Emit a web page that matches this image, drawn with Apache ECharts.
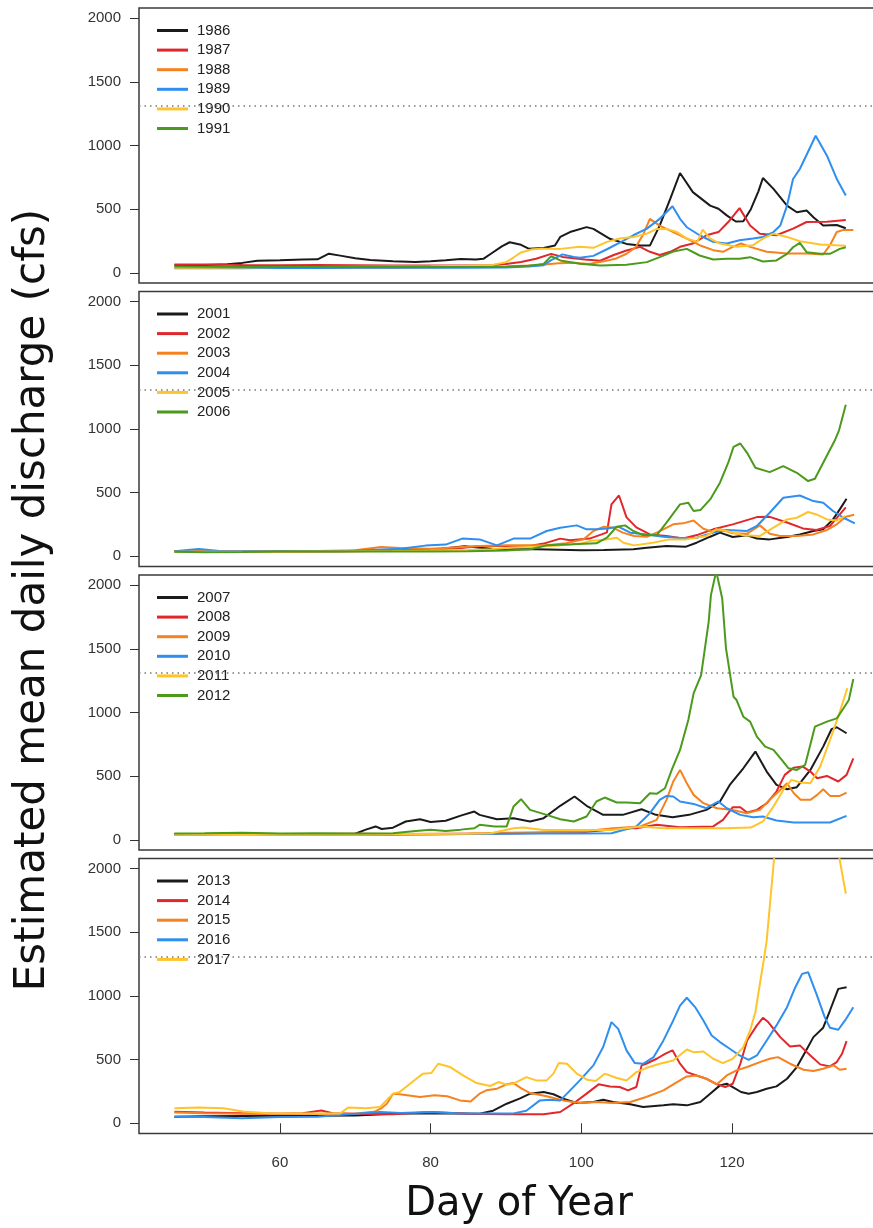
<!DOCTYPE html>
<html>
<head>
<meta charset="utf-8">
<title>Estimated mean daily discharge</title>
<script src="https://cdn.jsdelivr.net/npm/echarts@6/dist/echarts.min.js"></script>
<style>
  html, body { margin: 0; padding: 0; background: #fff; }
  #chart { width: 873px; height: 1228px; }
</style>
</head>
<body>
<div id="chart"></div>
<script>
// ===== Data: [day of year, discharge cfs] =====
var y1986 = [[46,60],[50,62],[53,68],[55,78],[57,95],[60,98],[63,104],[65,106],[66.5,150],[68,135],[70,115],[72,100],[75,90],[78,84],[80,90],[82,98],[84,108],[86,104],[87,110],[88,150],[89.5,210],[90.5,240],[92,220],[93,190],[95,195],[96.5,215],[97.2,282],[98.5,320],[100.7,359],[101.6,345],[103.8,267],[106,227],[107.8,214],[109.1,214],[110.4,371],[111.8,580],[113.1,784],[114.8,634],[117.1,528],[118.2,503],[119.3,451],[120.5,403],[121.5,405],[122.5,500],[123.5,640],[124.1,745],[125.5,659],[127.3,528],[128.6,476],[129.9,489],[130.8,437],[132.1,371],[133.9,376],[135.1,350]];
var y1987 = [[46,65],[50,65],[55,62],[60,60],[65,62],[70,60],[75,58],[80,58],[85,58],[88,60],[90,70],[92,85],[94,110],[96,149],[97.5,125],[99,115],[100.5,105],[102.5,95],[104.3,140],[106,175],[107.8,204],[109.1,165],[110.4,140],[111.8,165],[113.1,204],[114.8,230],[116.6,295],[118.2,320],[119.5,399],[121,508],[122.4,371],[123.7,306],[125.9,295],[128.1,347],[129.9,399],[132.6,402],[135.1,415]];
var y1988 = [[46,40],[50,38],[55,38],[60,40],[65,38],[70,40],[75,40],[80,42],[85,45],[90,50],[94,60],[97,75],[99,80],[101,70],[103,90],[104.5,110],[106,150],[107.2,200],[108.2,300],[109.1,424],[110.4,371],[112.2,320],[114,269],[115.7,217],[117.5,178],[118.8,165],[120.1,204],[121.2,230],[122.4,204],[124.6,165],[127.3,152],[129.9,152],[132.1,144],[133,217],[133.9,320],[134.8,337],[136.1,337]];
var y1989 = [[46,35],[50,38],[55,35],[60,40],[65,38],[70,40],[75,42],[80,40],[85,40],[90,42],[93,50],[95,60],[96,100],[97.5,145],[99,125],[99.8,118],[101.6,133],[103.4,185],[105.1,237],[106.9,295],[108.7,347],[110.4,424],[112.1,523],[113.1,424],[114,358],[115.7,295],[117.5,243],[119.3,230],[121,256],[122.8,269],[124.1,282],[125.5,320],[126.4,371],[127.3,528],[128.1,737],[129,815],[131.1,1077],[132.6,920],[133.9,737],[135.1,607]];
var y1990 = [[46,40],[50,40],[55,42],[60,45],[65,45],[70,48],[75,50],[80,52],[85,55],[88,60],[90,84],[91,120],[92,160],[93.5,185],[95,190],[97.2,188],[99.8,204],[101.6,196],[103.4,243],[105.1,269],[106.9,282],[108.7,308],[110,345],[111.3,345],[112.7,320],[114,269],[115.4,243],[116.1,340],[117.1,269],[118.4,230],[120.6,204],[122.8,217],[124.1,269],[125.5,308],[127.3,282],[129,248],[131.7,222],[135.1,212]];
var y1991 = [[46,50],[50,48],[55,45],[60,45],[65,45],[70,45],[75,45],[80,45],[85,45],[90,48],[93,55],[95,70],[96,131],[97.2,97],[99.8,71],[102.5,57],[106,63],[108.7,84],[110.4,123],[112.2,167],[114,188],[115.7,136],[117.5,105],[119.3,110],[121,110],[122.4,123],[124.1,89],[125.9,97],[127.3,149],[128.1,201],[129,235],[129.9,162],[131.7,149],[133,149],[134.3,188],[135.1,201]];

var y2001 = [[46,40],[50,38],[55,38],[60,38],[65,40],[70,42],[75,45],[80,50],[83,70],[84.5,80],[86.5,68],[88.8,55],[91,55],[94,55],[97,52],[100,48],[103,50],[106.9,55],[108.7,68],[111.3,81],[113.9,76],[115.3,107],[117.1,154],[118.4,186],[120.1,152],[122,165],[123.3,139],[125,133],[127.3,152],[129,172],[130.8,199],[132.1,212],[133.4,290],[134.3,369],[135.2,452]];
var y2002 = [[46,38],[50,38],[55,36],[60,38],[65,38],[70,40],[75,45],[80,50],[84,65],[86.5,81],[90,81],[93.2,81],[95,100],[97.2,139],[98.5,126],[101.1,139],[102.7,172],[103.4,188],[104,408],[105,478],[106,306],[107.3,227],[109.1,172],[111.3,160],[113.5,140],[115.5,170],[117.5,212],[120.1,251],[123.3,308],[125,310],[127.3,266],[129.4,219],[131.2,207],[133,238],[134.3,329],[135.1,384]];
var y2003 = [[46,40],[50,40],[55,38],[60,40],[65,42],[70,48],[73.4,73],[76,65],[80,60],[83,70],[86.5,81],[90,86],[95.4,86],[98,102],[100.3,133],[101.6,199],[103,233],[104.2,225],[105.5,186],[107,160],[108.7,154],[110,186],[112.2,251],[113.5,259],[114.9,282],[116.2,217],[117.5,191],[118.4,212],[120.1,181],[122,178],[123.7,243],[125,178],[126.4,160],[128.6,160],[130.8,172],[132.6,207],[133.9,251],[135.1,311],[136.2,327]];
var y2004 = [[46,40],[49.2,57],[52,42],[56,40],[60,40],[64,40],[68,40],[72,50],[76,60],[79.3,84],[82,92],[84.2,139],[86.5,133],[88.8,86],[91,139],[93.2,139],[95.4,199],[97.2,225],[99.4,243],[100.7,212],[102,212],[103.4,219],[104.9,233],[106.5,186],[108.7,172],[110.9,154],[113.1,144],[115.3,146],[117.5,186],[119.3,207],[122,199],[123.3,238],[125,342],[126.8,460],[129,478],[130.8,434],[132.1,421],[133.4,356],[134.8,303],[136.3,259]];
var y2005 = [[46,35],[50,35],[55,35],[60,35],[65,38],[70,40],[75,42],[80,45],[85,50],[88,55],[91,70],[94,75],[97,85],[100,100],[101.1,120],[103.4,133],[104.7,146],[105.6,107],[107,86],[109.5,107],[111.7,133],[113.9,133],[116.6,160],[117.9,212],[119.3,199],[121.5,165],[123.7,160],[125.5,225],[127.3,290],[128.6,303],[130.1,348],[131.2,329],[132.6,290],[133.9,282],[135,316]];
var y2006 = [[46,35],[50,32],[55,33],[60,38],[65,38],[70,38],[75,38],[80,38],[85,40],[90,45],[93.2,55],[95.4,86],[98.8,94],[102,102],[103.4,146],[104.7,233],[105.8,243],[106.9,199],[108.2,167],[110,165],[111.3,264],[113.1,408],[114.2,421],[114.9,356],[115.8,363],[117.1,447],[118.4,578],[119.5,735],[120.2,860],[121.1,886],[122,813],[123.1,695],[125,661],[126.8,708],[128.6,656],[130.1,591],[131,609],[132.1,735],[133.7,918],[134.2,990],[135.1,1190]];

var y2007 = [[46,45],[50,45],[55,48],[60,45],[65,45],[70,48],[71.4,80],[72.7,105],[73.5,85],[75,95],[76.7,144],[78.6,162],[80,140],[82,150],[84,190],[85.8,222],[86.5,196],[88.8,162],[91,170],[93.2,144],[95,170],[97.2,267],[99.1,340],[100.7,267],[102.9,196],[105.5,196],[108,240],[109.9,196],[112.1,178],[114.3,196],[116.6,235],[118.4,301],[119.7,431],[121.5,562],[123.1,693],[124.6,536],[125.9,431],[127.3,397],[128.6,413],[130.4,549],[132.1,732],[133.2,868],[133.9,884],[135.2,837]];
var y2008 = [[46,45],[50,42],[55,45],[60,45],[65,45],[70,48],[75,45],[80,45],[85,48],[90,50],[95,55],[100,60],[103,75],[105.1,91],[107.3,91],[110,118],[113.1,99],[117.5,105],[118.8,157],[120.1,256],[121.1,256],[122,214],[123.3,235],[124.6,287],[125.9,379],[127,510],[128.2,567],[129.4,575],[130.4,536],[131.3,484],[132.6,502],[134.1,458],[135.2,510],[136.1,640]];
var y2009 = [[46,40],[50,40],[55,42],[60,40],[65,42],[70,45],[75,45],[80,48],[85,50],[90,55],[95,60],[100,65],[104.2,91],[107.8,105],[110,157],[111.3,314],[112.2,458],[113.1,549],[114,444],[114.9,353],[116.2,288],[118,248],[120.1,235],[121.9,209],[123.7,235],[125,314],[126.4,392],[127.3,444],[128.2,366],[129.1,314],[130.4,314],[131.3,353],[132.1,397],[133,345],[134.3,345],[135.2,371]];
var y2010 = [[46,40],[50,38],[55,40],[60,40],[65,38],[70,40],[75,40],[80,42],[85,45],[90,48],[95,50],[100,50],[104,52],[107.3,105],[109.1,209],[110.4,314],[111.3,345],[112.2,340],[113.1,301],[114.9,282],[116.6,248],[118.2,301],[119.3,248],[121.1,196],[122.8,178],[124.1,183],[125.9,152],[128.2,136],[130.8,136],[133,136],[135.2,188]];
var y2011 = [[46,40],[50,40],[55,38],[60,40],[65,40],[70,42],[75,45],[80,45],[85,48],[88,52],[91,91],[92.3,96],[95,78],[100,78],[104,78],[107.8,105],[111,91],[115,91],[119,91],[122.5,96],[124.1,144],[125.5,261],[126.8,392],[127.9,471],[129.1,450],[130.4,444],[131.7,575],[133,784],[134.1,967],[134.8,1098],[135.3,1190]];
var y2012 = [[46,50],[50,52],[55,55],[60,50],[65,52],[70,50],[75,52],[78,70],[80,80],[82,70],[84,80],[85.8,91],[86.5,118],[88.5,105],[90.1,105],[91,261],[92,319],[93.2,235],[95.4,196],[97.2,162],[99,144],[100.7,183],[102,301],[103.1,332],[104.7,293],[106,293],[107.8,287],[109.1,366],[110,361],[111.1,405],[112,549],[113.1,706],[114.2,941],[114.9,1150],[115.9,1294],[116.9,1712],[117.2,1922],[117.9,2110],[118.7,1895],[119.2,1503],[120.2,1124],[120.6,1098],[121.5,967],[122.4,928],[123.3,810],[124.4,732],[125.5,706],[126.6,627],[127.5,562],[128.6,549],[129.7,588],[131,889],[132.6,928],[133.9,954],[134.8,1033],[135.5,1098],[136.1,1263]];

var y2013 = [[46,52],[50,55],[55,58],[60,60],[65,60],[70,62],[73,70],[76,78],[80,78],[84,78],[86.5,76],[88.3,99],[90.1,154],[91.8,194],[93.2,233],[95,246],[96.3,228],[97.6,194],[99.4,159],[101.6,167],[102.9,185],[104.2,167],[106.5,149],[108.2,128],[110.9,141],[112.2,149],[114,141],[115.8,167],[117.1,233],[118.4,298],[119.3,311],[120.1,285],[121.2,246],[122.2,233],[123.3,246],[124.6,272],[125.9,290],[127.3,350],[128.6,442],[129.7,559],[130.8,677],[132.1,751],[133,886],[134.1,1056],[135.2,1069]];
var y2014 = [[46,90],[50,85],[55,80],[60,75],[63,80],[65.5,100],[67,80],[70,75],[75,72],[80,88],[85,75],[90,72],[95,72],[97.2,89],[98.9,154],[100.7,233],[102.3,306],[103.8,290],[105.1,285],[106.2,259],[107.3,285],[108,455],[108.6,468],[110,507],[111.1,546],[112.1,573],[113.1,468],[114,402],[115.3,376],[116.6,350],[118,306],[119.1,285],[120.1,311],[121.1,468],[122,651],[123.3,769],[124.1,829],[124.8,795],[126.4,677],[127.7,604],[129,612],[130.4,533],[131.7,463],[133,447],[133.9,481],[134.6,546],[135.2,646]];
var y2015 = [[46,85],[50,80],[55,75],[60,75],[65,75],[70,78],[72.5,90],[73.5,120],[74.2,154],[75,233],[75.9,228],[78.6,207],[80.5,220],[82.2,212],[83.9,180],[85.3,172],[86.5,233],[87.4,259],[88.8,272],[90.1,306],[91,316],[92.1,272],[93.2,238],[95.4,212],[97.6,180],[99.8,159],[102,167],[104.2,159],[106.5,167],[108.6,207],[110.9,259],[112.7,324],[114,368],[115.3,376],[116.6,350],[118,306],[119.3,376],[120.6,416],[122,442],[123.7,481],[125,507],[126.1,520],[127.7,468],[129.5,421],[130.8,411],[132.1,429],[133.5,455],[134.3,421],[135.2,429]];
var y2016 = [[46,52],[50,50],[55,40],[60,50],[65,52],[70,75],[73.3,89],[76,82],[80,89],[84,78],[88,78],[91,78],[92.7,99],[94.5,180],[95.8,185],[97.2,180],[98.1,233],[99.8,337],[101.6,455],[102.9,599],[104,795],[104.9,742],[106,573],[107.1,473],[108.2,468],[109.6,520],[110.9,651],[112.2,808],[113.1,925],[114,986],[115.1,913],[116.2,808],[117.3,690],[118.4,638],[119.7,586],[121,533],[122.2,499],[123.3,533],[124.6,651],[125.9,769],[127.3,912],[128.4,1069],[129.3,1174],[130.1,1187],[131.2,1017],[132.3,834],[133,751],[134.1,735],[135,808],[136.1,912]];
var y2017 = [[46,118],[49.2,125],[52.5,118],[55.1,92],[59,78],[63.6,78],[68,78],[69.1,125],[71.4,118],[73.3,128],[75,233],[75.9,246],[78.1,350],[79,390],[80.1,395],[81,468],[82.6,442],[84.3,376],[86.1,316],[87.9,293],[89,324],[90.1,303],[91,311],[92.7,363],[94,337],[95.4,337],[96.3,390],[97,473],[98.1,468],[99.4,390],[100.8,342],[101.9,332],[103.1,390],[104.6,358],[106,337],[107.3,402],[108.6,434],[110.4,468],[112.2,494],[114,580],[114.9,559],[116.2,564],[117.5,507],[118.8,473],[120.1,507],[121.5,599],[122.4,729],[123.1,873],[123.7,1096],[124.2,1278],[124.6,1435],[125.6,2090],[126.5,2600],[128,3100],[130,3300],[132,3000],[134.2,2100],[135.1,1804]];

var panelYears = [
    ['1986', '1987', '1988', '1989', '1990', '1991'],
    ['2001', '2002', '2003', '2004', '2005', '2006'],
    ['2007', '2008', '2009', '2010', '2011', '2012'],
    ['2013', '2014', '2015', '2016', '2017']
];
var panelData = [
    [y1986, y1987, y1988, y1989, y1990, y1991],
    [y2001, y2002, y2003, y2004, y2005, y2006],
    [y2007, y2008, y2009, y2010, y2011, y2012],
    [y2013, y2014, y2015, y2016, y2017]
];
var yTicks = [0, 500, 1000, 1500, 2000];
var xTicks = [60, 80, 100, 120];
var threshold = 1310;

var lineColors = ['#1a1a1a', '#e0282c', '#f5821f', '#2e8ff0', '#fec42a', '#4b9a1c'];

// ===== Layout =====
var chart = echarts.init(document.getElementById('chart'));
var gridTops = [8, 291.5, 575, 858.5];
var gridHeight = 275;
var font = 'Liberation Sans, Arial, Helvetica, sans-serif';

var grids = [], xAxes = [], yAxes = [], legends = [], series = [];

panelYears.forEach(function(years, p) {
    var isBottom = p === panelYears.length - 1;

    grids.push({
        left: 139,
        top: gridTops[p],
        width: 749,
        height: gridHeight,
        show: true,
        borderColor: '#3a3a3a',
        borderWidth: 1.5,
        backgroundColor: 'transparent',
        outerBoundsMode: 'none'
    });

    xAxes.push({
        type: 'value',
        gridIndex: p,
        min: 41.3,
        max: 140.7,
        show: isBottom,
        axisLine: { show: false },
        splitLine: { show: false },
        axisTick: {
            show: isBottom,
            length: 10,
            customValues: xTicks,
            lineStyle: { color: '#333', width: 1 }
        },
        axisLabel: {
            show: isBottom,
            customValues: xTicks,
            margin: 22,
            color: '#333',
            fontSize: 15,
            fontFamily: font,
            formatter: function(v) { return String(v); }
        }
    });

    yAxes.push({
        type: 'value',
        gridIndex: p,
        min: -80,
        max: 2080,
        axisLine: { show: false },
        splitLine: { show: false },
        axisTick: {
            show: true,
            length: 9,
            customValues: yTicks,
            lineStyle: { color: '#333', width: 1 }
        },
        axisLabel: {
            customValues: yTicks,
            margin: 18,
            color: '#333',
            fontSize: 15,
            fontFamily: font,
            formatter: function(v) { return String(v); }
        }
    });

    legends.push({
        data: years,
        orient: 'vertical',
        left: 152,
        top: gridTops[p] + 10,
        icon: 'rect',
        itemWidth: 31,
        itemHeight: 3,
        itemGap: 4.6,
        selectedMode: false,
        textStyle: {
            color: '#222',
            fontSize: 15,
            lineHeight: 15,
            fontFamily: font,
            padding: [0, 0, 0, 4]
        }
    });

    years.forEach(function(year, i) {
        var s = {
            name: year,
            type: 'line',
            xAxisIndex: p,
            yAxisIndex: p,
            data: panelData[p][i],
            showSymbol: false,
            symbol: 'none',
            clip: true,
            color: lineColors[i],
            lineStyle: { width: 2, color: lineColors[i] },
            emphasis: { disabled: true }
        };
        if (i === 0) {
            s.markLine = {
                silent: true,
                symbol: 'none',
                label: { show: false },
                lineStyle: { type: [1.5, 4], color: '#777', width: 1.5 },
                data: [{ yAxis: threshold }]
            };
        }
        series.push(s);
    });
});

var option = {
    backgroundColor: '#fff',
    animation: false,
    grid: grids,
    xAxis: xAxes,
    yAxis: yAxes,
    legend: legends,
    series: series,
    graphic: [
        {
            type: 'text',
            x: 519,
            y: 1205,
            style: {
                text: 'Day of Year',
                fontSize: 40,
                fontFamily: 'DejaVu Sans, Verdana, sans-serif',
                fill: '#111',
                align: 'center',
                verticalAlign: 'middle'
            }
        },
        {
            type: 'text',
            x: 33,
            y: 600,
            rotation: Math.PI / 2,
            style: {
                text: 'Estimated mean daily discharge (cfs)',
                fontSize: 42,
                fontFamily: 'DejaVu Sans, Verdana, sans-serif',
                fill: '#111',
                align: 'center',
                verticalAlign: 'middle'
            }
        }
    ]
};

chart.setOption(option);

window.addEventListener('resize', function() {
    chart.resize();
});
</script>
</body>
</html>
